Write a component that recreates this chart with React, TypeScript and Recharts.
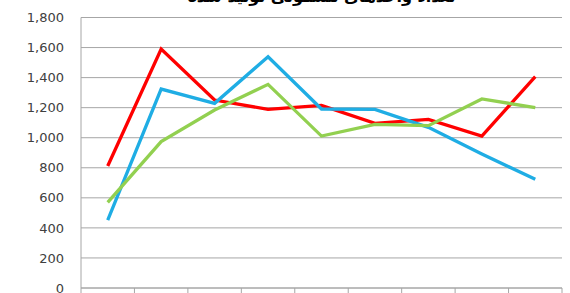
import React from "react";
import { LineChart, Line, XAxis, YAxis, CartesianGrid } from "recharts";

const categories = ["1384", "1385", "1386", "1387", "1388", "1389", "1390", "1391", "1392"];
const redSeries = [812, 1590, 1251, 1189, 1215, 1096, 1122, 1011, 1406];
const blueSeries = [452, 1324, 1229, 1539, 1191, 1189, 1069, 892, 723];
const greenSeries = [570, 974, 1184, 1355, 1011, 1089, 1080, 1258, 1200];
const yTicks = [0, 200, 400, 600, 800, 1000, 1200, 1400, 1600, 1800];
const boundaryTicks = [0, 1, 2, 3, 4, 5, 6, 7, 8, 9];
const title = "تعداد واحدهای مسکونی تولید شده";

const data = categories.map((c, i) => ({
  year: c,
  pos: i + 0.5,
  red: redSeries[i],
  blue: blueSeries[i],
  green: greenSeries[i],
}));

export default function App() {
  return (
    <div style={{ position: "absolute", left: 0, top: 0, width: 570, height: 293, overflow: "hidden", background: "#fff" }}>
      <div
        style={{
          position: "absolute",
          left: 81,
          width: 481,
          top: -11,
          textAlign: "center",
          direction: "rtl",
          fontFamily: "DejaVu Sans",
          fontWeight: "bold",
          fontSize: 16,
          lineHeight: "16px",
          color: "#000",
        }}
      >
        {title}
      </div>
      <LineChart
        width={570}
        height={330}
        data={data}
        margin={{ top: 17.5, right: 8, left: 0, bottom: 12 }}
      >
        <CartesianGrid vertical={false} stroke="#a6a6a6" strokeWidth={1} />
        <XAxis
          dataKey="pos"
          type="number"
          domain={[0, 9]}
          allowDataOverflow
          ticks={boundaryTicks}
          interval={0}
          height={30}
          tickFormatter={() => ""}
          tickSize={6}
          axisLine={{ stroke: "#a6a6a6" }}
          tickLine={{ stroke: "#a6a6a6" }}
        />
        <YAxis
          domain={[0, 1800]}
          ticks={yTicks}
          interval={0}
          width={81}
          tickSize={0}
          tickMargin={17}
          axisLine={{ stroke: "#a6a6a6" }}
          tickLine={false}
          tick={{ fill: "#404040", fontSize: 13, fontFamily: "DejaVu Sans" }}
          tickFormatter={(v: number) => v.toLocaleString("en-US")}
        />
        <Line dataKey="red" stroke="#ff0000" strokeWidth={3.3} dot={false} isAnimationActive={false} />
        <Line dataKey="blue" stroke="#1fade4" strokeWidth={3.3} dot={false} isAnimationActive={false} />
        <Line dataKey="green" stroke="#92d050" strokeWidth={3.3} dot={false} isAnimationActive={false} />
      </LineChart>
    </div>
  );
}
